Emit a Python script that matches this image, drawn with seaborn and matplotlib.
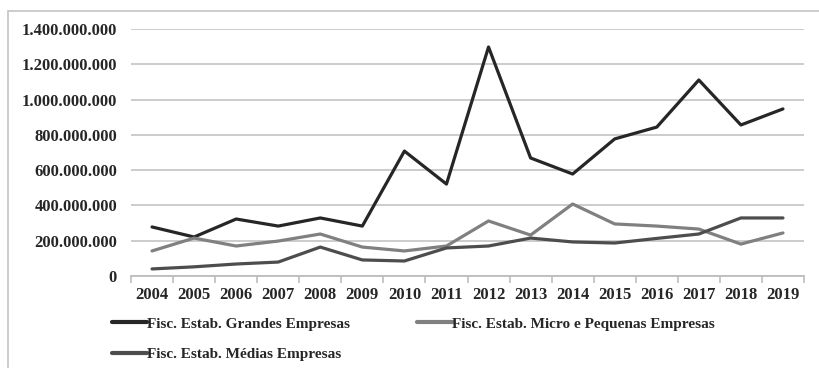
import matplotlib
matplotlib.use("Agg")
import matplotlib.pyplot as plt
from matplotlib.patches import Rectangle
from matplotlib.ticker import FuncFormatter, FixedLocator
import seaborn as sns
import pandas as pd

# Annual values (R$) by size of establishment
anos = list(range(2004, 2020))
grandes = [278e6, 221e6, 323e6, 283e6, 329e6, 283e6, 708e6, 521e6,
           1298e6, 669e6, 578e6, 777e6, 844e6, 1111e6, 856e6, 947e6]
micro_pequenas = [142e6, 215e6, 170e6, 198e6, 238e6, 164e6, 142e6, 170e6,
                  312e6, 232e6, 408e6, 295e6, 283e6, 266e6, 181e6, 244e6]
medias = [40e6, 52e6, 68e6, 79e6, 164e6, 91e6, 85e6, 159e6,
          170e6, 215e6, 193e6, 187e6, 213e6, 238e6, 329e6, 329e6]

series = ["Fisc. Estab. Grandes Empresas",
          "Fisc. Estab. Micro e Pequenas Empresas",
          "Fisc. Estab. Médias Empresas"]
cores = ["#262626", "#808080", "#4d4d4d"]

df = pd.DataFrame({
    "ano": anos * 3,
    "valor": grandes + micro_pequenas + medias,
    "serie": [series[0]] * 16 + [series[1]] * 16 + [series[2]] * 16,
})

sns.set_theme(style="white")
plt.rcParams["font.family"] = ["Liberation Serif", "DejaVu Serif"]
plt.rcParams["font.weight"] = "bold"
texto = "#262626"

W, H = 819, 368
fig = plt.figure(figsize=(W / 100, H / 100), dpi=100)
ax = fig.add_axes([131 / W, 1 - 276 / H, 673 / W, 247 / H])

# Outer frame around the chart
fig.patches.append(Rectangle((8 / W, -0.2), 1.2, 1.2 - 11 / H,
                             transform=fig.transFigure, fill=False,
                             edgecolor="#c4c4c4", linewidth=1.2))

sns.lineplot(data=df, x="ano", y="valor", hue="serie", hue_order=series,
             palette=cores, linewidth=2.3, ax=ax, legend=True)

ax.set_xlim(2003.5, 2019.5)
ax.set_ylim(0, 1.4e9)
ax.set_xlabel("")
ax.set_ylabel("")

ax.set_yticks([i * 2e8 for i in range(8)])
ax.yaxis.set_major_formatter(FuncFormatter(lambda v, p: f"{int(v):,}".replace(",", ".")))
ax.yaxis.grid(True, color="#c8c8c8", linewidth=1.3)
ax.set_axisbelow(True)

ax.set_xticks(anos)
ax.set_xticklabels([str(a) for a in anos])
ax.xaxis.set_minor_locator(FixedLocator([a + 0.5 for a in range(2003, 2020)]))
ax.tick_params(axis="x", which="major", length=0, pad=8, labelsize=12, colors=texto)
ax.tick_params(axis="x", which="minor", length=5, width=1.2, color="#bdbdbd", bottom=True)
ax.tick_params(axis="y", length=0, pad=10, labelsize=12, colors=texto)
for lbl in ax.get_xticklabels() + ax.get_yticklabels():
    lbl.set_fontweight("bold")

for s in ["left", "right", "top"]:
    ax.spines[s].set_visible(False)
ax.spines["bottom"].set_color("#bdbdbd")
ax.spines["bottom"].set_linewidth(1.3)

# Legend: two columns, filled column by column
handles, labels = ax.get_legend_handles_labels()
ax.legend_.remove()
ordem = [0, 2, 1]
leg = fig.legend([handles[i] for i in ordem], [labels[i] for i in ordem],
                 loc="upper left", bbox_to_anchor=(112 / W, 1 - 317 / H), ncol=2,
                 frameon=False, borderpad=0, borderaxespad=0,
                 handlelength=2.3, handletextpad=0.0, columnspacing=4.4,
                 labelspacing=1.1, prop={"size": 11, "weight": "bold"})
for t in leg.get_texts():
    t.set_color(texto)
for h in leg.get_lines():
    h.set_linewidth(3)

fig.savefig("out.png", dpi=100, facecolor="white")
